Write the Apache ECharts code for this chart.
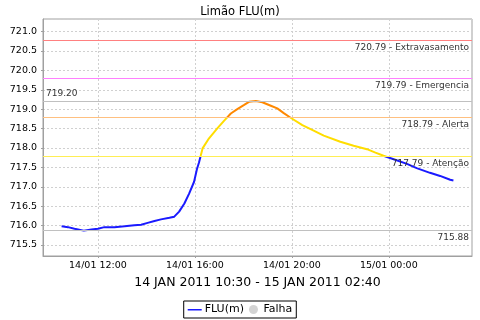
<!DOCTYPE html>
<html>
<head>
<meta charset="utf-8">
<script src="https://cdn.jsdelivr.net/npm/echarts@6/dist/echarts.min.js"></script>
<style>html,body{margin:0;padding:0;background:#fff}#c{width:480px;height:320px}</style>
</head>
<body>
<div id="c"></div>
<script>
var times = ['2011-01-14 10:30','2011-01-14 10:46','2011-01-14 11:02','2011-01-14 11:25','2011-01-14 11:44','2011-01-14 12:00','2011-01-14 12:16','2011-01-14 12:41','2011-01-14 13:06','2011-01-14 13:30','2011-01-14 13:47','2011-01-14 14:03','2011-01-14 14:20','2011-01-14 14:36','2011-01-14 14:57','2011-01-14 15:09','2011-01-14 15:21','2011-01-14 15:34','2011-01-14 15:46','2011-01-14 15:58','2011-01-14 16:05','2011-01-14 16:10','2011-01-14 16:19','2011-01-14 16:35','2011-01-14 16:56','2011-01-14 17:12','2011-01-14 17:29','2011-01-14 17:45','2011-01-14 18:02','2011-01-14 18:14','2011-01-14 18:31','2011-01-14 18:47','2011-01-14 19:08','2011-01-14 19:24','2011-01-14 19:40','2011-01-14 19:57','2011-01-14 20:26','2011-01-14 20:54','2011-01-14 21:19','2011-01-14 22:00','2011-01-14 22:33','2011-01-14 23:06','2011-01-14 23:27','2011-01-14 23:47','2011-01-15 00:12','2011-01-15 00:45','2011-01-15 01:09','2011-01-15 01:42','2011-01-15 02:07','2011-01-15 02:32','2011-01-15 02:40'];
var levels = [715.98,715.96,715.92,715.87,715.90,715.92,715.96,715.96,715.98,716.01,716.02,716.07,716.12,716.16,716.20,716.23,716.36,716.57,716.83,717.13,717.45,717.62,717.99,718.25,718.51,718.70,718.89,719.00,719.11,719.19,719.21,719.18,719.09,719.02,718.90,718.78,718.59,718.45,718.32,718.16,718.06,717.97,717.88,717.80,717.71,717.59,717.48,717.36,717.28,717.18,717.16];
var refValues = [720.79, 719.79, 719.20, 718.79, 717.79, 715.88];
var refLabels = ['720.79 - Extravasamento', '719.79 - Emergencia', '719.20', '718.79 - Alerta', '717.79 - Atenção', '715.88'];
var refColors = ['#ff8080', '#ff80ff', '#c0c0c0', '#ffc080', '#ffee55', '#c0c0c0'];
var titleText = 'Limão FLU(m)';
var periodText = '14 JAN 2011 10:30 - 15 JAN 2011 02:40';
var seriesNames = ['FLU(m)', 'Falha'];

function parseT(s){var p=s.split(/[- :]/);return new Date(+p[0],+p[1]-1,+p[2],+p[3],+p[4]).getTime();}
function pad(n){return (n<10?'0':'')+n;}
var data = times.map(function(t,i){return [parseT(t), levels[i]];});
var F = 'DejaVu Sans';

var markData = refValues.map(function(v,i){
  var pos = (i===2) ? 'insideStartTop' : 'insideEndBottom';
  return {yAxis: v, lineStyle:{color: refColors[i], width:1, type:'solid'},
    label:{show:true, formatter: refLabels[i], position: pos, color:'#333', fontSize:9, fontFamily:F, distance:[3,3]}};
});

var lineIcon = 'path://M0,0L0.01,0L0.01,0.01Z M0,4L14,4L14,5.6L0,5.6Z M0,9L0.01,9L0.01,8.99Z';

var chart = echarts.init(document.getElementById('c'), null, {renderer:'canvas'});
chart.setOption({
  animation:false,
  backgroundColor:'#fff',
  title:{text:titleText, left:'center', top:1, textStyle:{fontFamily:F, fontSize:11.5, fontWeight:'normal', color:'#000'}},
  grid:{left:43, right:8, top:19, bottom:64, show:true, borderColor:'#a0a0a0', borderWidth:1},
  xAxis:{type:'time', min:parseT('2011-01-14 09:44'), max:parseT('2011-01-15 03:26'),
    minInterval:4*3600e3, maxInterval:4*3600e3,
    name: periodText, nameLocation:'middle', nameGap:18,
    nameTextStyle:{fontFamily:F, fontSize:12.5, color:'#000', verticalAlign:'top'},
    axisLine:{lineStyle:{color:'#a0a0a0'}},
    axisTick:{show:true, length:2, lineStyle:{color:'#a0a0a0'}},
    axisLabel:{fontFamily:F, fontSize:9.5, color:'#000', margin:5, showMinLabel:false, showMaxLabel:false,
      formatter:function(v){var d=new Date(v);return pad(d.getDate())+'/'+pad(d.getMonth()+1)+' '+pad(d.getHours())+':'+pad(d.getMinutes());}},
    splitLine:{show:true, lineStyle:{color:'#d0d0d0', type:[2,2]}}
  },
  yAxis:{type:'value', min:715.216, max:721.325, splitNumber:12,
    axisLine:{show:true, lineStyle:{color:'#a0a0a0'}},
    axisTick:{show:true, length:2, lineStyle:{color:'#a0a0a0'}},
    axisLabel:{fontFamily:F, fontSize:9.5, color:'#000', margin:6, showMinLabel:false, showMaxLabel:false,
      formatter:function(v){return v.toFixed(1);}},
    splitLine:{show:true, lineStyle:{color:'#d0d0d0', type:[2,2]}}
  },
  visualMap:{show:false, type:'piecewise', dimension:1, seriesIndex:0,
    pieces:[{lt:717.79, color:'#1a1aff'},{gte:717.79, lt:718.79, color:'#ffdd00'},{gte:718.79, lt:719.79, color:'#ff8800'},{gte:719.79, color:'#ff3030'}]},
  legend:{bottom:2, left:'center', data:[{name:seriesNames[0], icon:lineIcon, itemStyle:{color:'#1a1aff', borderWidth:0}}, {name:seriesNames[1], icon:'circle', itemStyle:{color:'#c8c8c8'}}],
    borderColor:'#000', borderWidth:1, padding:[3,4], itemGap:5, itemWidth:14, itemHeight:9,
    textStyle:{fontFamily:F, fontSize:11, color:'#000', padding:[0,0,0,-2]}},
  series:[
    {name:seriesNames[0], type:'line', data:data, symbol:'none', showSymbol:false, lineStyle:{width:2}, 
     markLine:{silent:true, symbol:'none', data:markData}, z:3},
    {name:seriesNames[1], type:'scatter', data:[], itemStyle:{color:'#c8c8c8'}}
  ]
});
</script>
</body>
</html>
